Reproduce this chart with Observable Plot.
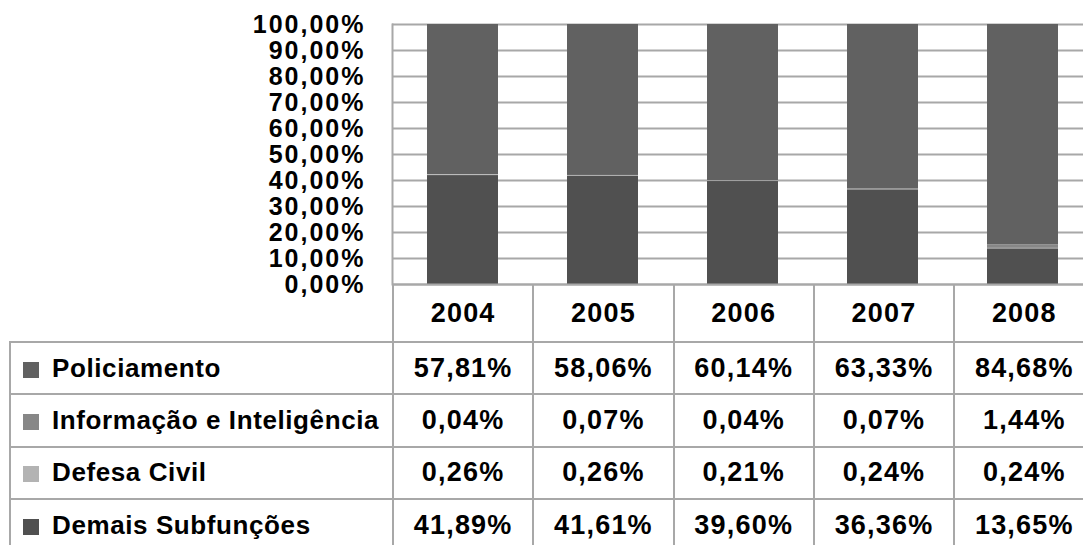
<!DOCTYPE html>
<html><head><meta charset="utf-8">
<script src="https://cdn.jsdelivr.net/npm/d3@7"></script>
<script src="https://cdn.jsdelivr.net/npm/@observablehq/plot@0.6"></script>
<style>
html,body{margin:0;padding:0;background:#fff;overflow:hidden;width:1083px;height:545px;}
#wrap{position:relative;width:1100px;font-family:"Liberation Sans",Arial,sans-serif;font-weight:bold;color:#000;}
#wrap svg{display:block;}
.chart text{letter-spacing:2px;}
table{border-collapse:collapse;table-layout:fixed;margin-left:9px;margin-top:-15px;position:relative;}
td{border:2px solid #a8a8a8;padding:0;text-align:center;font-size:27px;letter-spacing:1.2px;box-sizing:border-box;}
td.lab{text-align:left;font-size:26px;letter-spacing:0.6px;padding-left:12px;white-space:nowrap;}
tr.head td{border-top:none;}
tr.head td.empty{border:none;}
.sw{display:inline-block;width:16px;height:16px;margin-right:13px;vertical-align:-1px;}
</style></head><body><div id="wrap"></div>
<script>
const years = ["2004", "2005", "2006", "2007", "2008"];
const seriesNames = ["Policiamento", "Informação e Inteligência", "Defesa Civil", "Demais Subfunções"];
const seriesColors = ["#616161", "#878787", "#b3b3b3", "#505050"];
const policiamento = [57.81, 58.06, 60.14, 63.33, 84.68];
const informacao = [0.04, 0.07, 0.04, 0.07, 1.44];
const defesaCivil = [0.26, 0.26, 0.21, 0.24, 0.24];
const demais = [41.89, 41.61, 39.60, 36.36, 13.65];
const yTicks = [0, 10, 20, 30, 40, 50, 60, 70, 80, 90, 100];
const stackOrder = ["Demais Subfunções", "Defesa Civil", "Informação e Inteligência", "Policiamento"];

const seriesValues = [policiamento, informacao, defesaCivil, demais];
const fmt = v => v.toFixed(2).replace(".", ",") + "%";

const data = [];
seriesNames.forEach((s, i) => years.forEach((y, j) => data.push({series: s, year: y, value: seriesValues[i][j]})));

const gridColor = "#a8a8a8";
const chart = Plot.plot({
  width: 1094, height: 300,
  marginLeft: 392, marginRight: 1, marginTop: 24, marginBottom: 16,
  className: "chart",
  style: {fontFamily: "Liberation Sans, Arial, sans-serif", fontSize: "25px", color: "#000", background: "transparent"},
  x: {domain: years, paddingInner: 0.49, paddingOuter: 0.245, axis: null},
  y: {domain: [0, 100], axis: null, label: null},
  color: {domain: seriesNames, range: seriesColors},
  marks: [
    Plot.gridY(yTicks, {stroke: gridColor, strokeOpacity: 1, strokeWidth: 2}),
    Plot.barY(data, {x: "year", y: "value", fill: "series", order: stackOrder}),
    Plot.ruleY([0], {stroke: gridColor, strokeWidth: 2}),
    Plot.frame({anchor: "left", stroke: gridColor, strokeWidth: 2}),
    Plot.axisY(yTicks, {tickSize: 0, tickPadding: 27, tickFormat: fmt, fontWeight: "bold", fill: "#000", fontSize: 25, label: null})
  ]
});
const wrap = document.getElementById("wrap");
wrap.appendChild(chart);

// data table under the chart
const table = document.createElement("table");
const cg = document.createElement("colgroup");
const c0 = document.createElement("col"); c0.style.width = "383px"; cg.appendChild(c0);
years.forEach(() => { const c = document.createElement("col"); c.style.width = "140.3px"; cg.appendChild(c); });
table.appendChild(cg);
const head = document.createElement("tr"); head.className = "head"; head.style.height = "57px";
const e = document.createElement("td"); e.className = "empty"; head.appendChild(e);
years.forEach(y => { const td = document.createElement("td"); td.textContent = y; head.appendChild(td); });
table.appendChild(head);
seriesNames.forEach((s, i) => {
  const tr = document.createElement("tr"); tr.style.height = "52.4px";
  const lab = document.createElement("td"); lab.className = "lab";
  const sw = document.createElement("span"); sw.className = "sw"; sw.style.background = seriesColors[i];
  lab.appendChild(sw); lab.appendChild(document.createTextNode(s));
  tr.appendChild(lab);
  seriesValues[i].forEach(v => { const td = document.createElement("td"); td.textContent = fmt(v); tr.appendChild(td); });
  table.appendChild(tr);
});
wrap.appendChild(table);
</script></body></html>
